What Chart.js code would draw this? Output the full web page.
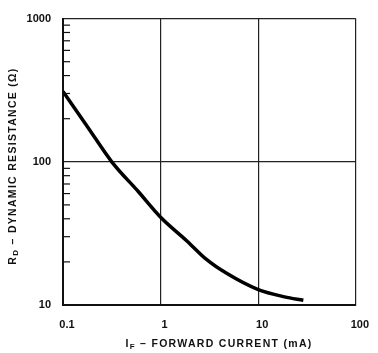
<!DOCTYPE html>
<html>
<head>
<meta charset="utf-8">
<script src="https://cdn.jsdelivr.net/npm/chart.js@4/dist/chart.umd.min.js"></script>
<style>
  html, body { margin: 0; padding: 0; background: #fff; }
  #wrap { width: 378px; height: 353px; }
</style>
</head>
<body>
<div id="wrap"><canvas id="c"></canvas></div>
<script>
// forward current (mA) vs dynamic resistance (ohm)
const current = [0.1, 0.178, 0.316, 0.59, 1, 1.86, 2.95, 4.7, 10, 18.6, 29];
const resistance = [310, 176, 100, 62, 41, 28, 20.8, 16.7, 12.8, 11.4, 10.8];

const xTicks = [0.1, 1, 10, 100];
const xTickLabels = ['0.1', '1', '10', '100'];
const yTicks = [10, 100, 1000];
const yTickLabels = ['10', '100', '1000'];
const yMinor = [20, 30, 40, 50, 60, 70, 80, 90, 200, 300, 400, 500, 600, 700, 800, 900];

const xTitle = [['I', 'main'], ['F', 'sub'], [' \u2013 FORWARD CURRENT (mA)', 'main']];
const yTitle = [['R', 'main'], ['D', 'sub'], [' \u2013 DYNAMIC RESISTANCE (\u03A9)', 'main']];

const FONT = '"Liberation Sans", Arial, sans-serif';

function drawParts(ctx, parts, cx, cy) {
  const mainFont = 'bold 10.5px ' + FONT;
  const subFont = 'bold 8px ' + FONT;
  ctx.letterSpacing = '1.3px';
  let total = 0;
  parts.forEach(p => {
    ctx.font = p[1] === 'sub' ? subFont : mainFont;
    total += ctx.measureText(p[0]).width;
  });
  let x = cx - total / 2;
  ctx.textBaseline = 'middle';
  ctx.textAlign = 'left';
  parts.forEach(p => {
    ctx.font = p[1] === 'sub' ? subFont : mainFont;
    ctx.fillText(p[0], x, p[1] === 'sub' ? cy + 3 : cy);
    x += ctx.measureText(p[0]).width;
  });
  ctx.letterSpacing = '0px';
}

const extras = {
  id: 'extras',
  afterDraw(chart) {
    const { ctx, chartArea, scales } = chart;
    ctx.save();
    ctx.strokeStyle = '#111';
    ctx.lineWidth = 1.2;
    yMinor.forEach(v => {
      const py = scales.y.getPixelForValue(v);
      ctx.beginPath();
      ctx.moveTo(chartArea.left, py);
      ctx.lineTo(chartArea.left + 7, py);
      ctx.stroke();
    });
    ctx.fillStyle = '#111';
    drawParts(ctx, xTitle, 219, 344);
    ctx.translate(13, 166);
    ctx.rotate(-Math.PI / 2);
    drawParts(ctx, yTitle, 0, 0);
    ctx.restore();
  }
};

new Chart(document.getElementById('c'), {
  type: 'line',
  data: {
    datasets: [{
      data: current.map((c, i) => ({ x: c, y: resistance[i] })),
      borderColor: '#000',
      borderWidth: 3.5,
      pointRadius: 0,
      cubicInterpolationMode: 'monotone',
      fill: false
    }]
  },
  options: {
    responsive: true,
    maintainAspectRatio: false,
    animation: false,
    layout: { padding: { top: 10, right: 16, left: 0, bottom: 0 } },
    plugins: { legend: { display: false }, tooltip: { enabled: false } },
    scales: {
      x: {
        type: 'logarithmic',
        min: 0.1,
        max: 100,
        afterBuildTicks: s => { s.ticks = xTicks.map(v => ({ value: v })); },
        afterFit: s => { s.height = 48; },
        ticks: {
          callback: (v, i) => xTickLabels[i],
          color: '#111',
          font: { family: FONT, size: 11, weight: 'bold' },
          padding: 13,
          labelOffset: 4,
          maxRotation: 0,
          autoSkip: false
        },
        grid: { color: '#222', lineWidth: 1.2, drawTicks: false },
        border: { color: '#111', width: 2 }
      },
      y: {
        type: 'logarithmic',
        min: 10,
        max: 1000,
        afterBuildTicks: s => { s.ticks = yTicks.map(v => ({ value: v })); },
        afterFit: s => { s.width = 63; },
        ticks: {
          callback: (v, i) => yTickLabels[i],
          color: '#111',
          font: { family: FONT, size: 11, weight: 'bold' },
          padding: 12,
          autoSkip: false
        },
        grid: { color: '#222', lineWidth: 1.2, drawTicks: false },
        border: { color: '#111', width: 2 }
      }
    }
  },
  plugins: [extras]
});
</script>
</body>
</html>
